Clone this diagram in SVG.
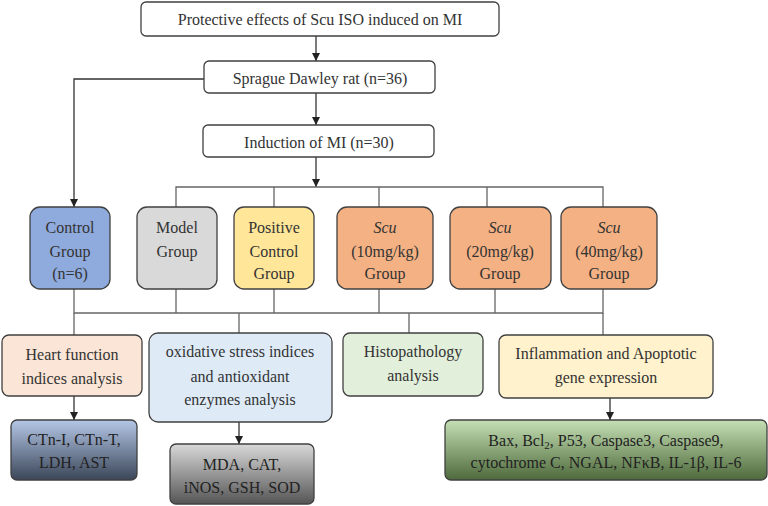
<svg xmlns="http://www.w3.org/2000/svg" width="768" height="506" viewBox="0 0 768 506" style="font-family:'Liberation Serif','Times New Roman',serif">
<defs>
<style>
text{font-size:16px;fill:#333;text-anchor:middle}
.box{stroke:#404040;stroke-width:1.3}
.ln{fill:none;stroke:#333;stroke-width:1.3}
.gl{fill:none;stroke:#666;stroke-width:1.3}
.w{fill:#fff}
.dk{fill:#222}
</style>
<marker id="ah" viewBox="0 0 10 10" refX="10" refY="5" markerWidth="8" markerHeight="8" markerUnits="userSpaceOnUse" orient="auto"><path d="M0,0L10,5L0,10z" fill="#222"/></marker>
<linearGradient id="gb" x1="0" y1="0" x2="0" y2="1"><stop offset="0" stop-color="#b4c7e7"/><stop offset="1" stop-color="#3b4658"/></linearGradient>
<linearGradient id="gg" x1="0" y1="0" x2="0" y2="1"><stop offset="0" stop-color="#d9d9d9"/><stop offset="1" stop-color="#555"/></linearGradient>
<linearGradient id="gn" x1="0" y1="0" x2="0" y2="1"><stop offset="0" stop-color="#c5e0b4"/><stop offset="1" stop-color="#4e6a3c"/></linearGradient>
</defs>
<g id="connectors">
<path class="ln" d="M316,36V61" marker-end="url(#ah)"/>
<path class="ln" d="M316,93V125" marker-end="url(#ah)"/>
<path class="ln" d="M204,79H74V207" marker-end="url(#ah)"/>
<path class="ln" d="M316,157V187" marker-end="url(#ah)"/>
<path class="gl" d="M176,207V187H603V207M274,187V207M379,187V207M487,187V207"/>
<path class="gl" d="M74,289V313H603V289M176,289V313M274,289V313M379,289V313M495,289V313"/>
<path class="gl" d="M74,313V335M239,313V333M409,313V333M603,313V335"/>
<path class="ln" d="M74,396V420" marker-end="url(#ah)"/>
<path class="ln" d="M239,422V444" marker-end="url(#ah)"/>
<path class="ln" d="M610,398V420" marker-end="url(#ah)"/>
</g>
<g id="title"><rect class="box w" x="141" y="2" width="358" height="34" rx="5"/><text x="320" y="25">Protective effects of Scu ISO induced on MI</text></g>
<g id="sprague"><rect class="box w" x="204" y="61" width="231" height="32" rx="5"/><text x="320" y="84">Sprague Dawley rat (n=36)</text></g>
<g id="induction"><rect class="box w" x="203" y="125" width="231" height="32" rx="5"/><text x="319" y="148">Induction of MI (n=30)</text></g>
<g id="control"><rect class="box" fill="#8faadc" x="30" y="207" width="80" height="82" rx="10"/><text x="70" y="233">Control</text><text x="70" y="257">Group</text><text x="70" y="279">(n=6)</text></g>
<g id="model"><rect class="box" fill="#d9d9d9" x="137" y="207" width="80" height="82" rx="10"/><text x="177" y="233">Model</text><text x="177" y="257">Group</text></g>
<g id="positive"><rect class="box" fill="#ffe699" x="234" y="207" width="80" height="82" rx="10"/><text x="274" y="233">Positive</text><text x="274" y="257">Control</text><text x="274" y="279">Group</text></g>
<g id="scu10"><rect class="box" fill="#f4b183" x="337" y="207" width="96" height="82" rx="10"/><text x="385" y="233" font-style="italic">Scu</text><text x="385" y="257">(10mg/kg)</text><text x="385" y="279">Group</text></g>
<g id="scu20"><rect class="box" fill="#f4b183" x="450" y="207" width="101" height="82" rx="10"/><text x="500" y="233" font-style="italic">Scu</text><text x="500" y="257">(20mg/kg)</text><text x="500" y="279">Group</text></g>
<g id="scu40"><rect class="box" fill="#f4b183" x="561" y="207" width="96" height="82" rx="10"/><text x="609" y="233" font-style="italic">Scu</text><text x="609" y="257">(40mg/kg)</text><text x="609" y="279">Group</text></g>
<g id="heart"><rect class="box" fill="#fbe5d6" x="2" y="335" width="140" height="61" rx="7"/><text x="72" y="360">Heart function</text><text x="72" y="384">indices analysis</text></g>
<g id="oxidative"><rect class="box" fill="#deebf7" x="149" y="333" width="183" height="89" rx="9"/><text x="240" y="357">oxidative stress indices</text><text x="240" y="382">and antioxidant</text><text x="240" y="405">enzymes analysis</text></g>
<g id="histo"><rect class="box" fill="#e2efda" x="343" y="333" width="140" height="63" rx="7"/><text x="413" y="357">Histopathology</text><text x="413" y="381">analysis</text></g>
<g id="inflammation"><rect class="box" fill="#fff2cc" x="499" y="335" width="214" height="63" rx="7"/><text x="606" y="359">Inflammation and Apoptotic</text><text x="606" y="383">gene expression</text></g>
<g id="ctn"><rect class="box" fill="url(#gb)" x="11" y="420" width="126" height="60" rx="6"/><text class="dk" x="74" y="445">CTn-I, CTn-T,</text><text class="dk" x="74" y="468">LDH, AST</text></g>
<g id="mda"><rect class="box" fill="url(#gg)" x="170" y="444" width="144" height="60" rx="6"/><text class="dk" x="242" y="470">MDA, CAT,</text><text class="dk" x="242" y="493">iNOS, GSH, SOD</text></g>
<g id="bax"><rect class="box" fill="url(#gn)" x="445" y="420" width="322" height="60" rx="6"/><text class="dk" x="606" y="446">Bax, Bcl<tspan font-size="11" dy="3">2</tspan><tspan dy="-3">, P53, Caspase3, Caspase9,</tspan></text><text class="dk" x="606" y="468">cytochrome C, NGAL, NFκB, IL-1β, IL-6</text></g>
</svg>
